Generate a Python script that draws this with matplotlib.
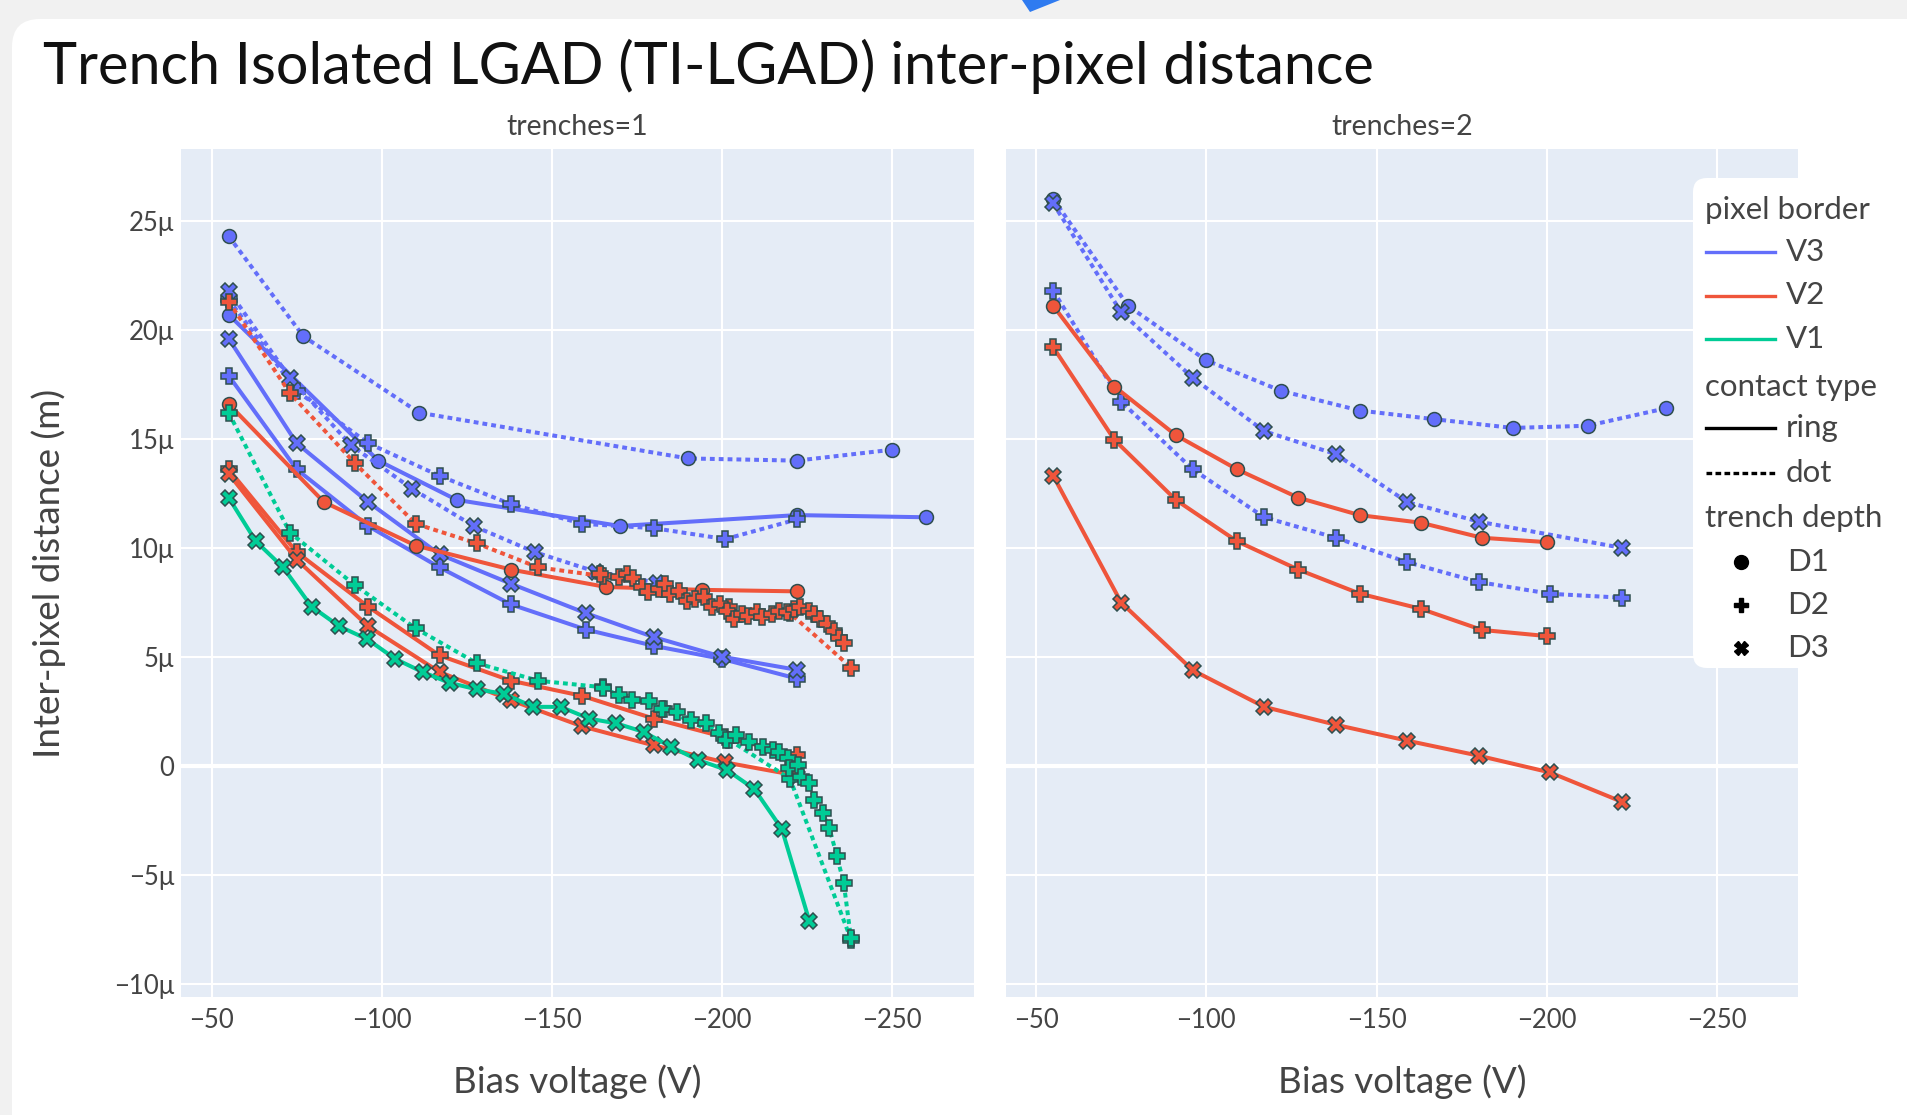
import matplotlib
matplotlib.use("Agg")
import matplotlib.pyplot as plt
from matplotlib.lines import Line2D
from matplotlib.patches import FancyBboxPatch, Polygon
from matplotlib.ticker import FuncFormatter

plt.rcParams["font.family"] = ["Lato", "DejaVu Sans"]

W, H = 1908, 1115

COLORS = {"V3": "#636efa", "V2": "#ef553b", "V1": "#00cc96"}
DASHES = {"ring": "-", "dot": (0, (1.2, 1.0))}
SYMBOLS = {"D1": "o", "D2": "P", "D3": "X"}

BORDERS = ["V3", "V2", "V1"]
CONTACTS = ["ring", "dot"]
DEPTHS = ["D1", "D2", "D3"]
X_TICKS = [-50, -100, -150, -200, -250]
Y_TICKS = [-10, -5, 0, 5, 10, 15, 20, 25]

# ---- trenches=1 (inter-pixel distance in micrometres) ----
t1_v3_dot_d1_v = [-55, -77, -111, -190, -222, -250]
t1_v3_dot_d1_y = [24.3, 19.7, 16.2, 14.1, 14.0, 14.5]

t1_v3_ring_d1_v = [-55, -99, -122, -170, -222, -260]
t1_v3_ring_d1_y = [20.7, 14.0, 12.2, 11.0, 11.5, 11.4]

t1_v3_dot_d3_v = [-55, -73, -91, -109, -127, -145, -163, -181]
t1_v3_dot_d3_y = [21.8, 17.8, 14.7, 12.7, 11.0, 9.8, 8.9, 8.4]

t1_v3_dot_d2_v = [-55, -75, -96, -117, -138, -159, -180, -201, -222]
t1_v3_dot_d2_y = [21.4, 17.2, 14.8, 13.3, 12.0, 11.1, 10.9, 10.4, 11.3]

t1_v3_ring_d3_v = [-55, -75, -96, -117, -138, -160, -180, -200, -222]
t1_v3_ring_d3_y = [19.6, 14.8, 12.1, 9.7, 8.35, 7.0, 5.9, 5.0, 4.4]

t1_v3_ring_d2_v = [-55, -75, -96, -117, -138, -160, -180, -200, -222]
t1_v3_ring_d2_y = [17.9, 13.6, 11.0, 9.1, 7.4, 6.25, 5.5, 4.9, 4.0]

t1_v2_ring_d1_v = [-55, -83, -110, -138, -166, -194, -222]
t1_v2_ring_d1_y = [16.6, 12.1, 10.1, 9.0, 8.2, 8.07, 8.0]

t1_v2_dot_d2_v = [-55, -73, -92, -110, -128, -146, -165, -183, -202, -220, -238]
t1_v2_dot_d2_y = [21.3, 17.1, 13.9, 11.1, 10.2, 9.1, 8.7, 8.1, 7.3, 7.0, 4.5]

t1_v2_dot_d2_sweep_v = [-164.2, -169.6, -172.1, -174.0, -176.5, -178.4, -181.4, -183.3,
                        -184.8, -187.3, -189.7, -192.2, -194.6, -197.1, -199.5, -201.5,
                        -203.4, -205.9, -207.8, -210.3, -211.8, -214.7, -216.7, -219.1,
                        -221.1, -223.0, -225.5, -227.0, -228.9, -230.9, -232.8, -234.3,
                        -235.8]
t1_v2_dot_d2_sweep_y = [8.81, 8.66, 8.81, 8.61, 8.19, 7.96, 8.12, 8.35,
                        7.89, 8.04, 7.58, 7.65, 7.73, 7.27, 7.42, 7.1,
                        6.73, 6.96, 6.88, 7.04, 6.81, 6.96, 7.11, 7.04,
                        7.19, 7.27, 7.11, 6.96, 6.73, 6.50, 6.19, 5.88,
                        5.65]

t1_v2_ring_d2_v = [-55, -75, -96, -117, -138, -159, -180, -201, -222]
t1_v2_ring_d2_y = [13.6, 9.8, 7.3, 5.06, 3.9, 3.2, 2.16, 1.3, 0.5]

t1_v2_ring_d3_v = [-55, -75, -96, -117, -138, -159, -180, -201, -222]
t1_v2_ring_d3_y = [13.4, 9.46, 6.4, 4.3, 3.0, 1.8, 0.93, 0.15, -0.45]

t1_v1_ring_d3_v = [-55, -63, -71, -79.4, -87.5, -95.8, -104, -112, -120, -128, -136,
                   -144.5, -152.6, -161, -169, -177, -185, -193, -201.5, -209.5,
                   -217.6, -225.7]
t1_v1_ring_d3_y = [12.3, 10.3, 9.1, 7.3, 6.4, 5.8, 4.9, 4.3, 3.8, 3.5, 3.3,
                   2.7, 2.7, 2.16, 1.94, 1.55, 0.87, 0.26, -0.20, -1.07,
                   -2.90, -7.13]

t1_v1_dot_d2_v = [-55, -73, -92, -110, -128, -146, -165, -183, -202, -220, -238]
t1_v1_dot_d2_y = [16.2, 10.7, 8.3, 6.3, 4.7, 3.9, 3.6, 2.6, 1.2, -0.6, -8.0]

t1_v1_dot_d2_sweep_v = [-164.9, -169.8, -173.7, -178.6, -182.5, -186.9, -190.9, -195.3,
                        -199.2, -201.2, -204.1, -208.0, -212.0, -214.9, -216.9, -219.3,
                        -219.8, -222.3, -223.2, -225.7, -227.2, -229.6, -231.6, -233.8,
                        -235.8, -237.9]
t1_v1_dot_d2_sweep_y = [3.57, 3.23, 3.0, 2.96, 2.62, 2.47, 2.09, 1.94,
                        1.48, 1.17, 1.40, 1.10, 0.87, 0.72, 0.64, 0.34,
                        -0.12, 0.03, -0.50, -0.81, -1.57, -2.18, -2.87, -4.16,
                        -5.38, -7.90]

# ---- trenches=2 ----
t2_v3_dot_d1_v = [-55, -77, -100, -122, -145, -167, -190, -212, -235]
t2_v3_dot_d1_y = [26.0, 21.1, 18.6, 17.2, 16.3, 15.9, 15.5, 15.6, 16.4]

t2_v3_dot_d3_v = [-55, -75, -96, -117, -138, -159, -180, -222]
t2_v3_dot_d3_y = [25.8, 20.8, 17.8, 15.35, 14.3, 12.1, 11.2, 10.0]

t2_v3_dot_d2_v = [-55, -75, -96, -117, -138, -159, -180, -201, -222]
t2_v3_dot_d2_y = [21.8, 16.7, 13.6, 11.4, 10.46, 9.34, 8.43, 7.89, 7.71]

t2_v2_ring_d1_v = [-55, -73, -91, -109, -127, -145, -163, -181, -200]
t2_v2_ring_d1_y = [21.1, 17.4, 15.17, 13.6, 12.3, 11.5, 11.15, 10.46, 10.26]

t2_v2_ring_d2_v = [-55, -73, -91, -109, -127, -145, -163, -181, -200]
t2_v2_ring_d2_y = [19.2, 14.95, 12.2, 10.3, 9.0, 7.9, 7.2, 6.23, 5.95]

t2_v2_ring_d3_v = [-55, -75, -96, -117, -138, -159, -180, -201, -222]
t2_v2_ring_d3_y = [13.3, 7.48, 4.38, 2.70, 1.88, 1.15, 0.46, -0.31, -1.65]

TRACES = [
    (0, "V3", "ring", "D1", t1_v3_ring_d1_v, t1_v3_ring_d1_y),
    (0, "V3", "ring", "D2", t1_v3_ring_d2_v, t1_v3_ring_d2_y),
    (0, "V3", "ring", "D3", t1_v3_ring_d3_v, t1_v3_ring_d3_y),
    (0, "V3", "dot", "D1", t1_v3_dot_d1_v, t1_v3_dot_d1_y),
    (0, "V3", "dot", "D2", t1_v3_dot_d2_v, t1_v3_dot_d2_y),
    (0, "V3", "dot", "D3", t1_v3_dot_d3_v, t1_v3_dot_d3_y),
    (0, "V2", "ring", "D1", t1_v2_ring_d1_v, t1_v2_ring_d1_y),
    (0, "V2", "ring", "D2", t1_v2_ring_d2_v, t1_v2_ring_d2_y),
    (0, "V2", "ring", "D3", t1_v2_ring_d3_v, t1_v2_ring_d3_y),
    (0, "V2", "dot", "D2", t1_v2_dot_d2_v, t1_v2_dot_d2_y),
    (0, "V2", "dot", "D2", t1_v2_dot_d2_sweep_v, t1_v2_dot_d2_sweep_y),
    (0, "V1", "ring", "D3", t1_v1_ring_d3_v, t1_v1_ring_d3_y),
    (0, "V1", "dot", "D2", t1_v1_dot_d2_v, t1_v1_dot_d2_y),
    (0, "V1", "dot", "D2", t1_v1_dot_d2_sweep_v, t1_v1_dot_d2_sweep_y),
    (1, "V3", "dot", "D1", t2_v3_dot_d1_v, t2_v3_dot_d1_y),
    (1, "V3", "dot", "D2", t2_v3_dot_d2_v, t2_v3_dot_d2_y),
    (1, "V3", "dot", "D3", t2_v3_dot_d3_v, t2_v3_dot_d3_y),
    (1, "V2", "ring", "D1", t2_v2_ring_d1_v, t2_v2_ring_d1_y),
    (1, "V2", "ring", "D2", t2_v2_ring_d2_v, t2_v2_ring_d2_y),
    (1, "V2", "ring", "D3", t2_v2_ring_d3_v, t2_v2_ring_d3_y),
]

TEXT = "#444444"


def pixel_axes(fig, zorder):
    ax = fig.add_axes([0, 0, 1, 1], zorder=zorder)
    ax.set_xlim(0, W)
    ax.set_ylim(H, 0)
    ax.axis("off")
    ax.patch.set_visible(False)
    return ax


def micro(v, _pos):
    if v == 0:
        return "0"
    s = f"{abs(v):g}μ"
    return "\u2212" + s if v < 0 else s


def style_panel(ax, show_y):
    ax.set_facecolor("#e5ecf6")
    ax.spines[["top", "right", "left", "bottom"]].set_visible(False)
    ax.set_xlim(-41, -274)
    ax.set_ylim(-10.6, 28.3)
    ax.set_xticks(X_TICKS, [f"\u2212{abs(t)}" for t in X_TICKS])
    ax.set_yticks(Y_TICKS)
    ax.yaxis.set_major_formatter(FuncFormatter(micro))
    ax.grid(color="white", linewidth=1.5)
    ax.set_axisbelow(True)
    ax.axhline(0, color="white", linewidth=3.0, zorder=1)
    ax.tick_params(axis="both", length=0, labelsize=18.5, labelcolor=TEXT)
    ax.tick_params(axis="x", pad=8)
    ax.tick_params(axis="y", pad=5)
    if not show_y:
        ax.tick_params(axis="y", labelleft=False)


fig = plt.figure(figsize=(W / 100, H / 100), dpi=100, facecolor="#f1f1f1")

bg = pixel_axes(fig, -10)
bg.add_patch(FancyBboxPatch((12, 19), 1990, 1200, boxstyle="round,pad=0,rounding_size=28",
                            fc="white", ec="none"))
bg.add_patch(Polygon([(1022, 0), (1060, 0), (1030, 12)], closed=True, fc="#2f7bf0", ec="none"))

ax1 = fig.add_axes([181 / W, 1 - 996.7 / H, 792.7 / W, 847.7 / H])
ax2 = fig.add_axes([1005.6 / W, 1 - 996.7 / H, 792.9 / W, 847.7 / H], sharey=ax1)
axes = [ax1, ax2]
style_panel(ax1, True)
style_panel(ax2, False)

for panel, border, contact, depth, v, y in TRACES:
    axes[panel].plot(
        v, y,
        color=COLORS[border],
        linestyle=DASHES[contact],
        linewidth=2.9,
        marker=SYMBOLS[depth],
        markersize=10 if depth == "D1" else 11,
        markeredgecolor="#2f4f4f",
        markeredgewidth=1.1,
        zorder=3,
    )

fig.text(43 / W, 1 - 66 / H, "Trench Isolated LGAD (TI-LGAD) inter-pixel distance",
         ha="left", va="center", fontsize=41.5, color="#111111")
fig.text(577 / W, 1 - 127 / H, "trenches=1", ha="center", va="center", fontsize=20.5, color=TEXT)
fig.text(1402 / W, 1 - 127 / H, "trenches=2", ha="center", va="center", fontsize=20.5, color=TEXT)
fig.text(577 / W, 1 - 1082 / H, "Bias voltage (V)", ha="center", va="center", fontsize=26.5, color=TEXT)
fig.text(1402 / W, 1 - 1082 / H, "Bias voltage (V)", ha="center", va="center", fontsize=26.5, color=TEXT)
fig.text(49 / W, 1 - 573 / H, "Inter-pixel distance (m)", ha="center", va="center",
         rotation=90, fontsize=26.5, color=TEXT)

# legend, drawn by hand so it can run off the right edge like the original
lg = pixel_axes(fig, 10)
lg.add_patch(FancyBboxPatch((1693, 178), 400, 490, boxstyle="round,pad=0,rounding_size=14",
                            fc="white", ec="none"))
fs = 22.5
lg.text(1705, 210, "pixel border", fontsize=fs, color=TEXT, va="center")
for i, border in enumerate(BORDERS):
    yy = 252 + 43.5 * i
    lg.add_line(Line2D([1706, 1775], [yy, yy], color=COLORS[border], linewidth=2.4))
    lg.text(1786, yy, border, fontsize=fs, color=TEXT, va="center")
lg.text(1705, 387, "contact type", fontsize=fs, color=TEXT, va="center")
for i, contact in enumerate(CONTACTS):
    yy = 428 + 44.5 * i
    lg.add_line(Line2D([1706, 1775], [yy, yy], color="black", linewidth=2.4,
                       linestyle="-" if contact == "ring" else (0, (1.7, 1.0))))
    lg.text(1786, yy, contact, fontsize=fs, color=TEXT, va="center")
lg.text(1705, 518, "trench depth", fontsize=fs, color=TEXT, va="center")
for i, depth in enumerate(DEPTHS):
    yy = 562 + 43 * i
    lg.add_line(Line2D([1741], [yy], marker=SYMBOLS[depth], color="black", markersize=10,
                       linestyle="none"))
    lg.text(1787, yy, depth, fontsize=fs, color=TEXT, va="center")

fig.savefig("out.png", dpi=100, facecolor=fig.get_facecolor())
